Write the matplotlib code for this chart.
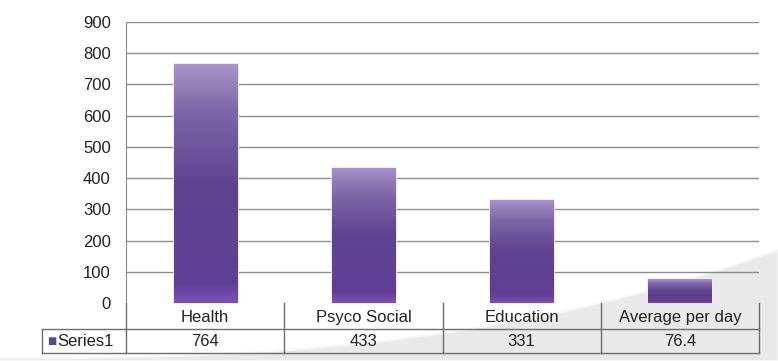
import numpy as np
import matplotlib.pyplot as plt
from matplotlib.colors import LinearSegmentedColormap
from matplotlib.patches import Rectangle, Polygon
import matplotlib.transforms as mtransforms

plt.rcParams['font.family'] = ['Liberation Sans', 'DejaVu Sans']

# datos
categorias = ['Health', 'Psyco Social', 'Education', 'Average per day']
valores = [764, 433, 331, 76.4]
etiquetas = ['764', '433', '331', '76.4']
serie = 'Series1'
marcas_y = np.arange(0, 901, 100)

fig = plt.figure(figsize=(7.78, 3.61), dpi=100)
fig.patch.set_facecolor('white')

# fondo gris (curva de la diapositiva)
xs = np.linspace(0.0, 1.0, 80)
ys = 0.008 + 0.30 * xs ** 2.6
fondo = Polygon(np.column_stack([np.r_[xs, 1.0, 0.0], np.r_[ys, 0.0, 0.0]]),
                closed=True, transform=fig.transFigure, facecolor='#e9e9e9',
                edgecolor='#f7f7f7', linewidth=1.5, zorder=-5)
fig.patches.append(fondo)

ax = fig.add_axes([0.162, 0.1607, 0.8136, 0.7783])
ax.set_facecolor('none')
ax.set_yticks(marcas_y)
ax.set_xticks([])
ax.tick_params(axis='y', length=0, pad=11, labelsize=12, colors='#222222')
for s in ['top', 'right', 'bottom']:
    ax.spines[s].set_visible(False)
ax.spines['left'].set_color('#8c8c8c')
n = len(categorias)
ax.hlines(marcas_y[1:], -0.5, n - 0.5, color='#8c8c8c', linewidth=1, zorder=1)

# barras con degradado
cmap = LinearSegmentedColormap.from_list('morado', [
    (0.0, '#7c4fbc'), (0.08, '#603f95'), (0.5, '#5f4390'),
    (0.8, '#7d67a8'), (1.0, '#a894c8')])
ancho = 0.4
grad = np.linspace(0, 1, 256).reshape(-1, 1)
for i, v in enumerate(valores):
    x0 = i - ancho / 2
    glow = Rectangle((x0, 0), ancho, v, facecolor='none', edgecolor='#efe8f8',
                     linewidth=2, zorder=2)
    ax.add_patch(glow)
    rect = Rectangle((x0, 0), ancho, v, facecolor='none', edgecolor='none', zorder=3)
    ax.add_patch(rect)
    im = ax.imshow(grad, extent=[x0, x0 + ancho, 0, v], origin='lower',
                   cmap=cmap, aspect='auto', zorder=3)
    im.set_clip_path(rect)
ax.set_xlim(-0.5, n - 0.5)
ax.set_ylim(0, 900)

# tabla de datos
trans = mtransforms.blended_transform_factory(ax.transData, fig.transFigure)
y0 = (361 - 303) / 361
y1 = (361 - 329) / 361
y2 = (361 - 353) / 361
col = '#6e6e6e'
xl = -0.5 - 84 / 158  # columna de leyenda
ax.plot([-0.5, n - 0.5], [y1, y1], transform=trans, color=col, lw=1, clip_on=False)
ax.plot([xl, n - 0.5], [y2, y2], transform=trans, color=col, lw=1, clip_on=False)
ax.plot([xl, -0.5], [y1, y1], transform=trans, color=col, lw=1, clip_on=False)
ax.plot([xl, xl], [y1, y2], transform=trans, color=col, lw=1, clip_on=False)
for k in range(n + 1):
    ax.plot([k - 0.5, k - 0.5], [y0, y2], transform=trans, color=col, lw=1, clip_on=False)
for i, (c, t) in enumerate(zip(categorias, etiquetas)):
    ax.text(i, (y0 + y1) / 2 - 0.003, c, transform=trans, ha='center', va='center',
            fontsize=12, color='#222222')
    ax.text(i, (y1 + y2) / 2, t, transform=trans, ha='center', va='center',
            fontsize=12, color='#222222')
ax.text(xl + 0.035, (y1 + y2) / 2, '\u25a0', transform=trans, ha='left', va='center',
        fontsize=7, color='#5f4390', family=['DejaVu Sans'])
ax.text(xl + 0.1, (y1 + y2) / 2, serie, transform=trans, ha='left', va='center',
        fontsize=12, color='#222222')

fig.savefig('out.png', dpi=100)
